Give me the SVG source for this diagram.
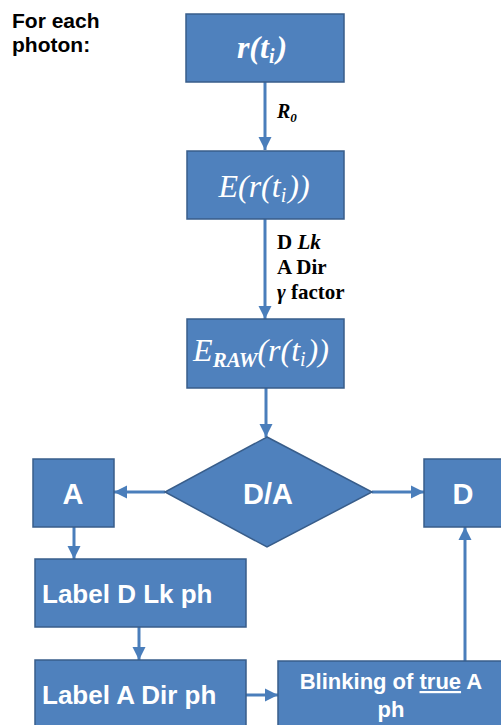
<svg xmlns="http://www.w3.org/2000/svg" width="501" height="725" viewBox="0 0 501 725">
<defs>
<style>
.box{fill:#4F81BD;stroke:#385D8A;stroke-width:1.5}
.conn{stroke:#4A7EBB;stroke-width:3;fill:none}
.sans{font-family:"Liberation Sans",Arial,sans-serif;font-weight:bold}
.wt{fill:#FFFFFF}
.serif{font-family:"Liberation Serif","Times New Roman",serif}
</style>
<marker id="ah" viewBox="0 0 10 10" refX="10" refY="5" markerWidth="4.4" markerHeight="4.4" orient="auto" markerUnits="strokeWidth">
<path d="M0,0 L10,5 L0,10 Z" fill="#4A7EBB"/>
</marker>
</defs>
<rect width="501" height="725" fill="#FFFFFF"/>
<text class="sans" x="12" y="28" font-size="21" fill="#000">For each</text>
<text class="sans" x="12" y="52" font-size="21" fill="#000">photon:</text>

<g id="connectors">
<line class="conn" x1="265" y1="82" x2="265" y2="150" marker-end="url(#ah)"/>
<line class="conn" x1="265" y1="219" x2="265" y2="319" marker-end="url(#ah)"/>
<line class="conn" x1="266" y1="388" x2="266" y2="437" marker-end="url(#ah)"/>
<line class="conn" x1="165" y1="492" x2="114" y2="492" marker-end="url(#ah)"/>
<line class="conn" x1="372" y1="492" x2="424" y2="492" marker-end="url(#ah)"/>
<line class="conn" x1="74" y1="527" x2="74" y2="559" marker-end="url(#ah)"/>
<line class="conn" x1="139" y1="627" x2="139" y2="660" marker-end="url(#ah)"/>
<line class="conn" x1="246" y1="695" x2="278" y2="695" marker-end="url(#ah)"/>
<line class="conn" x1="465" y1="661" x2="465" y2="527" marker-end="url(#ah)"/>
<text class="serif" x="277" y="118" font-size="20" font-weight="bold" font-style="italic" fill="#000">R<tspan font-size="13" dy="4">0</tspan></text>
<text class="serif" x="277" y="249" font-size="21" font-weight="bold" fill="#000">D <tspan font-style="italic">Lk</tspan></text>
<text class="serif" x="277" y="274" font-size="21" font-weight="bold" fill="#000">A Dir</text>
<text class="serif" x="277" y="299" font-size="21" font-weight="bold" fill="#000"><tspan font-style="italic">γ</tspan> factor</text>
</g>

<g id="node-r">
<rect class="box" x="186" y="14" width="158" height="68"/>
<text class="serif wt" x="262" y="58" font-size="32" font-style="italic" font-weight="bold" text-anchor="middle">r(t<tspan font-size="20" dy="5">i</tspan><tspan dx="2" dy="-5">)</tspan></text>
</g>

<g id="node-E">
<rect class="box" x="187" y="151" width="157" height="68"/>
<text class="serif wt" x="264" y="197" font-size="32" font-style="italic" text-anchor="middle">E(r(t<tspan font-size="20" dy="5">i</tspan><tspan dx="2" dy="-5">))</tspan></text>
</g>

<g id="node-Eraw">
<rect class="box" x="187" y="319" width="157" height="69"/>
<text class="serif wt" x="261" y="361" font-size="32" font-style="italic" text-anchor="middle">E<tspan font-size="21" font-weight="bold" dy="6">RAW</tspan><tspan dy="-6">(r(t</tspan><tspan font-size="20" dy="5">i</tspan><tspan dx="2" dy="-5">))</tspan></text>
</g>

<g id="node-DA">
<polygon class="box" points="267,437 372,492 267,547 165,492"/>
<text class="sans wt" x="268" y="504" font-size="29" text-anchor="middle">D/A</text>
</g>

<g id="node-A">
<rect class="box" x="33" y="459" width="81" height="68"/>
<text class="sans wt" x="73" y="504" font-size="29" text-anchor="middle">A</text>
</g>

<g id="node-D">
<rect class="box" x="424" y="459" width="80" height="68"/>
<text class="sans wt" x="463" y="504" font-size="29" text-anchor="middle">D</text>
</g>

<g id="node-labelDLk">
<rect class="box" x="35" y="559" width="211" height="68"/>
<text class="sans wt" x="42" y="603" font-size="26">Label D Lk ph</text>
</g>

<g id="node-labelADir">
<rect class="box" x="35" y="660" width="211" height="70"/>
<text class="sans wt" x="42" y="704" font-size="26">Label A Dir ph</text>
</g>

<g id="node-blinking">
<rect class="box" x="278" y="661" width="226" height="70"/>
<text class="sans wt" x="391" y="689" font-size="22" text-anchor="middle">Blinking of <tspan text-decoration="underline">true</tspan> A</text>
<text class="sans wt" x="391" y="717" font-size="22" text-anchor="middle">ph</text>
</g>
</svg>
